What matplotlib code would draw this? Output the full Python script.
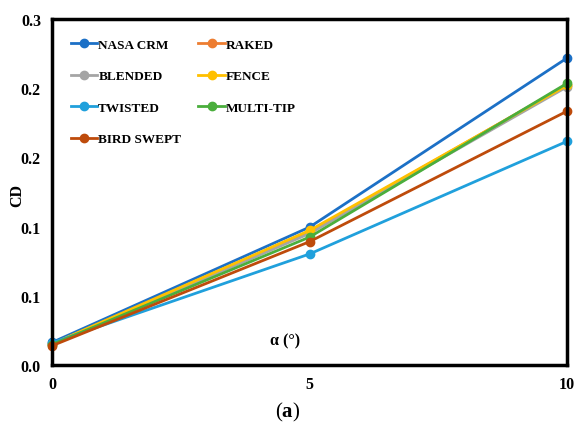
import matplotlib
matplotlib.use("Agg")
import matplotlib.pyplot as plt

alpha = [0, 5, 10]
series_names = ["NASA CRM", "RAKED", "BLENDED", "FENCE", "TWISTED", "MULTI-TIP", "BIRD SWEPT"]
nasa_crm = [0.0163, 0.0996, 0.2218]
raked = [0.0150, 0.0960, 0.2025]
blended = [0.0150, 0.0950, 0.2010]
fence = [0.0152, 0.0972, 0.2020]
twisted = [0.0160, 0.0802, 0.1616]
multi_tip = [0.0148, 0.0924, 0.2035]
bird_swept = [0.0139, 0.0891, 0.1834]
colors = ["#1C70C6", "#ED7D31", "#A5A5A5", "#FFC000", "#20A0DC", "#4AAE3C", "#BE4B0B"]
yticks = [0.0, 0.05, 0.10, 0.15, 0.20, 0.25]
ytick_labels = ["0.0", "0.1", "0.1", "0.2", "0.2", "0.3"]
xticks = [0, 5, 10]

plt.rcParams['font.family'] = ['Liberation Serif', 'DejaVu Serif']
plt.rcParams['mathtext.fontset'] = 'custom'
plt.rcParams['mathtext.rm'] = 'Liberation Serif'
plt.rcParams['mathtext.bf'] = 'Liberation Serif:bold'

fig = plt.figure(figsize=(5.74, 4.39), dpi=100)
ax = fig.add_axes([0.0906, 0.1663, 0.8972, 0.7881])

data = [nasa_crm, raked, blended, fence, twisted, multi_tip, bird_swept]
handles = {}
for name, vals, c in zip(series_names, data, colors):
    h, = ax.plot(alpha, vals, color=c, lw=2.0, marker='o', markersize=6, label=name,
                 clip_on=False)
    handles[name] = h

order = ["NASA CRM", "BLENDED", "TWISTED", "BIRD SWEPT", "RAKED", "FENCE", "MULTI-TIP"]
leg = ax.legend([handles[n] for n in order], order, ncol=2, loc='upper left',
                bbox_to_anchor=(0.013, 0.977), frameon=False,
                prop={'family': 'Liberation Serif', 'weight': 'bold', 'size': 9.5},
                handlelength=2.0, handletextpad=0.1, labelspacing=1.45, columnspacing=1.3)

ax.set_xlim(0, 10)
ax.set_ylim(0, 0.25)
ax.set_xticks(xticks)
ax.set_xticklabels([str(x) for x in xticks], fontweight='bold', fontsize=11.5)
ax.set_yticks(yticks)
ax.set_yticklabels(ytick_labels, fontweight='bold', fontsize=11.5)
ax.tick_params(length=0, pad=8)
for s in ax.spines.values():
    s.set_linewidth(2.5)
    s.set_color('black')

ax.set_ylabel("CD", fontweight='bold', fontsize=11.5)
ax.yaxis.set_label_coords(-0.052, 0.494)
ax.set_xlabel("α (°)", fontweight='bold', fontsize=11.5)
ax.xaxis.set_label_coords(0.452, 0.095)

fig.text(0.502, 0.0615, r"($\mathbf{a}$)", ha='center', va='center', fontsize=15)

fig.savefig("out.png", dpi=100)
